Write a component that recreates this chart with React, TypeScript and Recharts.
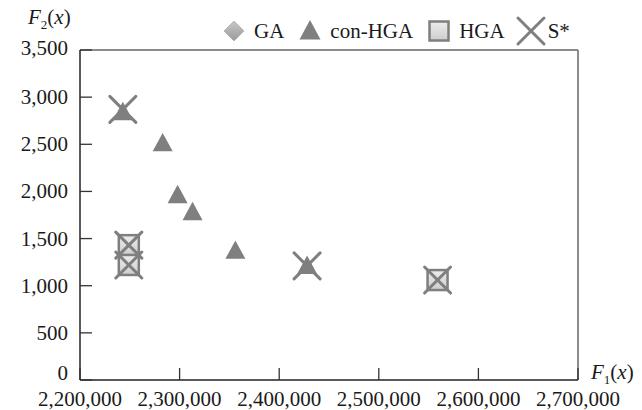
import React from "react"
import { ScatterChart, Scatter, XAxis, YAxis, ReferenceLine } from "recharts"

// F1(x) values on x, F2(x) values on y
const gaF1 = [2249000, 2249000, 2559000]
const gaF2 = [1430, 1220, 1060]

const conHgaF1 = [2243000, 2283000, 2298000, 2313000, 2356000, 2428000]
const conHgaF2 = [2820, 2490, 1940, 1760, 1350, 1190]

const hgaF1 = [2249000, 2249000, 2559000]
const hgaF2 = [1430, 1220, 1060]

const sStarF1 = [2243000, 2249000, 2249000, 2428000, 2559000]
const sStarF2 = [2870, 1430, 1220, 1210, 1060]

const xTicks = [2200000, 2300000, 2400000, 2500000, 2600000, 2700000]
const yTicks = [0, 500, 1000, 1500, 2000, 2500, 3000, 3500]

const seriesNames = ["GA", "con-HGA", "HGA", "S*"]

const toPoints = (xs: number[], ys: number[]) => xs.map((x, i) => ({ x, y: ys[i] }))

const FONT = "'Liberation Serif', 'Times New Roman', serif"
const GREY = "#7f7f7f"
const TEXT = "#1a1a1a"

const Diamond = ({ cx, cy, r = 10 }: any) => (
  <path
    d={`M${cx},${cy - r}L${cx + r},${cy}L${cx},${cy + r}L${cx - r},${cy}Z`}
    fill="url(#diamondFill)"
    stroke="#b5b5b5"
    strokeWidth={1}
  />
)

const Triangle = ({ cx, cy, w = 20 }: any) => {
  const h = w * 0.92
  return (
    <path
      d={`M${cx},${cy - (h * 2) / 3}L${cx + w / 2},${cy + h / 3}L${cx - w / 2},${cy + h / 3}Z`}
      fill={GREY}
    />
  )
}

const Square = ({ cx, cy, s = 20 }: any) => (
  <rect
    x={cx - s / 2}
    y={cy - s / 2}
    width={s}
    height={s}
    fill="url(#squareFill)"
    stroke={GREY}
    strokeWidth={2.5}
  />
)

const Cross = ({ cx, cy, r = 13 }: any) => (
  <g stroke={GREY} strokeWidth={3} strokeLinecap="round">
    <line x1={cx - r} y1={cy - r} x2={cx + r} y2={cy + r} />
    <line x1={cx - r} y1={cy + r} x2={cx + r} y2={cy - r} />
  </g>
)

const XTick = ({ x, y, payload }: any) => (
  <g>
    <line x1={x} y1={y} x2={x} y2={y - 12} stroke="#333" strokeWidth={1.3} />
    <text x={x} y={y + 26} textAnchor="middle" fontFamily={FONT} fontSize={21} fill={TEXT}>
      {payload.value.toLocaleString("en-US")}
    </text>
  </g>
)

const YTick = ({ x, y, payload }: any) => {
  // the end labels sit a little higher, as in the source figure
  const dy = payload.value === 0 ? 0 : payload.value === 3500 ? 5 : 7
  return (
    <g>
      <line x1={x} y1={y} x2={x + 12} y2={y} stroke="#333" strokeWidth={1.3} />
      <text x={x - 12} y={y + dy} textAnchor="end" fontFamily={FONT} fontSize={21} fill={TEXT}>
        {payload.value.toLocaleString("en-US")}
      </text>
    </g>
  )
}

const icons = [
  <Diamond cx={11} cy={11} r={10} />,
  <Triangle cx={11} cy={13} w={21} />,
  <Square cx={11} cy={11} s={19} />,
  <Cross cx={11} cy={11} r={13} />,
]

const LegendBox = () => (
  <div
    style={{
      position: "absolute",
      left: 223,
      top: 20,
      display: "flex",
      alignItems: "center",
      fontFamily: FONT,
      fontSize: 21,
      color: TEXT,
      lineHeight: "22px",
    }}
  >
    {seriesNames.map((name, i) => (
      <div key={name} style={{ display: "flex", alignItems: "center", marginRight: 15 }}>
        <svg width={22} height={22} style={{ marginRight: i === 3 ? 6 : 9, overflow: "visible" }}>
          {icons[i]}
        </svg>
        <span>{name}</span>
      </div>
    ))}
  </div>
)

export default function App() {
  return (
    <div style={{ position: "absolute", left: 0, top: 0, width: 642, height: 410, background: "#fff" }}>
      <ScatterChart width={642} height={410} margin={{ top: 50, right: 64, bottom: 0, left: 20 }}>
        <defs>
          <linearGradient id="squareFill" x1="0" y1="0" x2="0" y2="1">
            <stop offset="0%" stopColor="#ededed" />
            <stop offset="100%" stopColor="#cdcdcd" />
          </linearGradient>
          <linearGradient id="diamondFill" x1="0" y1="0" x2="0" y2="1">
            <stop offset="0%" stopColor="#c8c8c8" />
            <stop offset="100%" stopColor="#9a9a9a" />
          </linearGradient>
        </defs>
        <XAxis
          type="number"
          dataKey="x"
          domain={[2200000, 2700000]}
          ticks={xTicks}
          interval={0}
          height={30}
          tickSize={0}
          tickMargin={0}
          tick={<XTick />}
          axisLine={{ stroke: "#222", strokeWidth: 1.5 }}
          allowDataOverflow
        />
        <YAxis
          type="number"
          dataKey="y"
          domain={[0, 3500]}
          ticks={yTicks}
          interval={0}
          width={60}
          tickSize={0}
          tickMargin={0}
          tick={<YTick />}
          axisLine={{ stroke: "#222", strokeWidth: 1.5 }}
          allowDataOverflow
        />
        <ReferenceLine y={3500} stroke="#666" strokeWidth={1.5} />
        <ReferenceLine x={2700000} stroke="#666" strokeWidth={1.5} />
        <Scatter name="GA" data={toPoints(gaF1, gaF2)} shape={(p: any) => <Diamond cx={p.cx} cy={p.cy} r={7} />} isAnimationActive={false} />
        <Scatter name="con-HGA" data={toPoints(conHgaF1, conHgaF2)} shape={(p: any) => <Triangle cx={p.cx} cy={p.cy} w={20} />} isAnimationActive={false} />
        <Scatter name="HGA" data={toPoints(hgaF1, hgaF2)} shape={(p: any) => <Square cx={p.cx} cy={p.cy} s={20} />} isAnimationActive={false} />
        <Scatter name="S*" data={toPoints(sStarF1, sStarF2)} shape={(p: any) => <Cross cx={p.cx} cy={p.cy} r={13} />} isAnimationActive={false} />
      </ScatterChart>
      <LegendBox />
      <div style={{ position: "absolute", left: 28, top: 5, fontFamily: FONT, fontSize: 21, color: TEXT, lineHeight: "24px" }}>
        <i>F</i>
        <sub style={{ fontSize: 13, lineHeight: "10px" }}>2</sub>(<i>x</i>)
      </div>
      <div style={{ position: "absolute", left: 591, top: 360, fontFamily: FONT, fontSize: 21, color: TEXT, lineHeight: "24px" }}>
        <i>F</i>
        <sub style={{ fontSize: 13, lineHeight: "10px" }}>1</sub>(<i>x</i>)
      </div>
    </div>
  )
}
